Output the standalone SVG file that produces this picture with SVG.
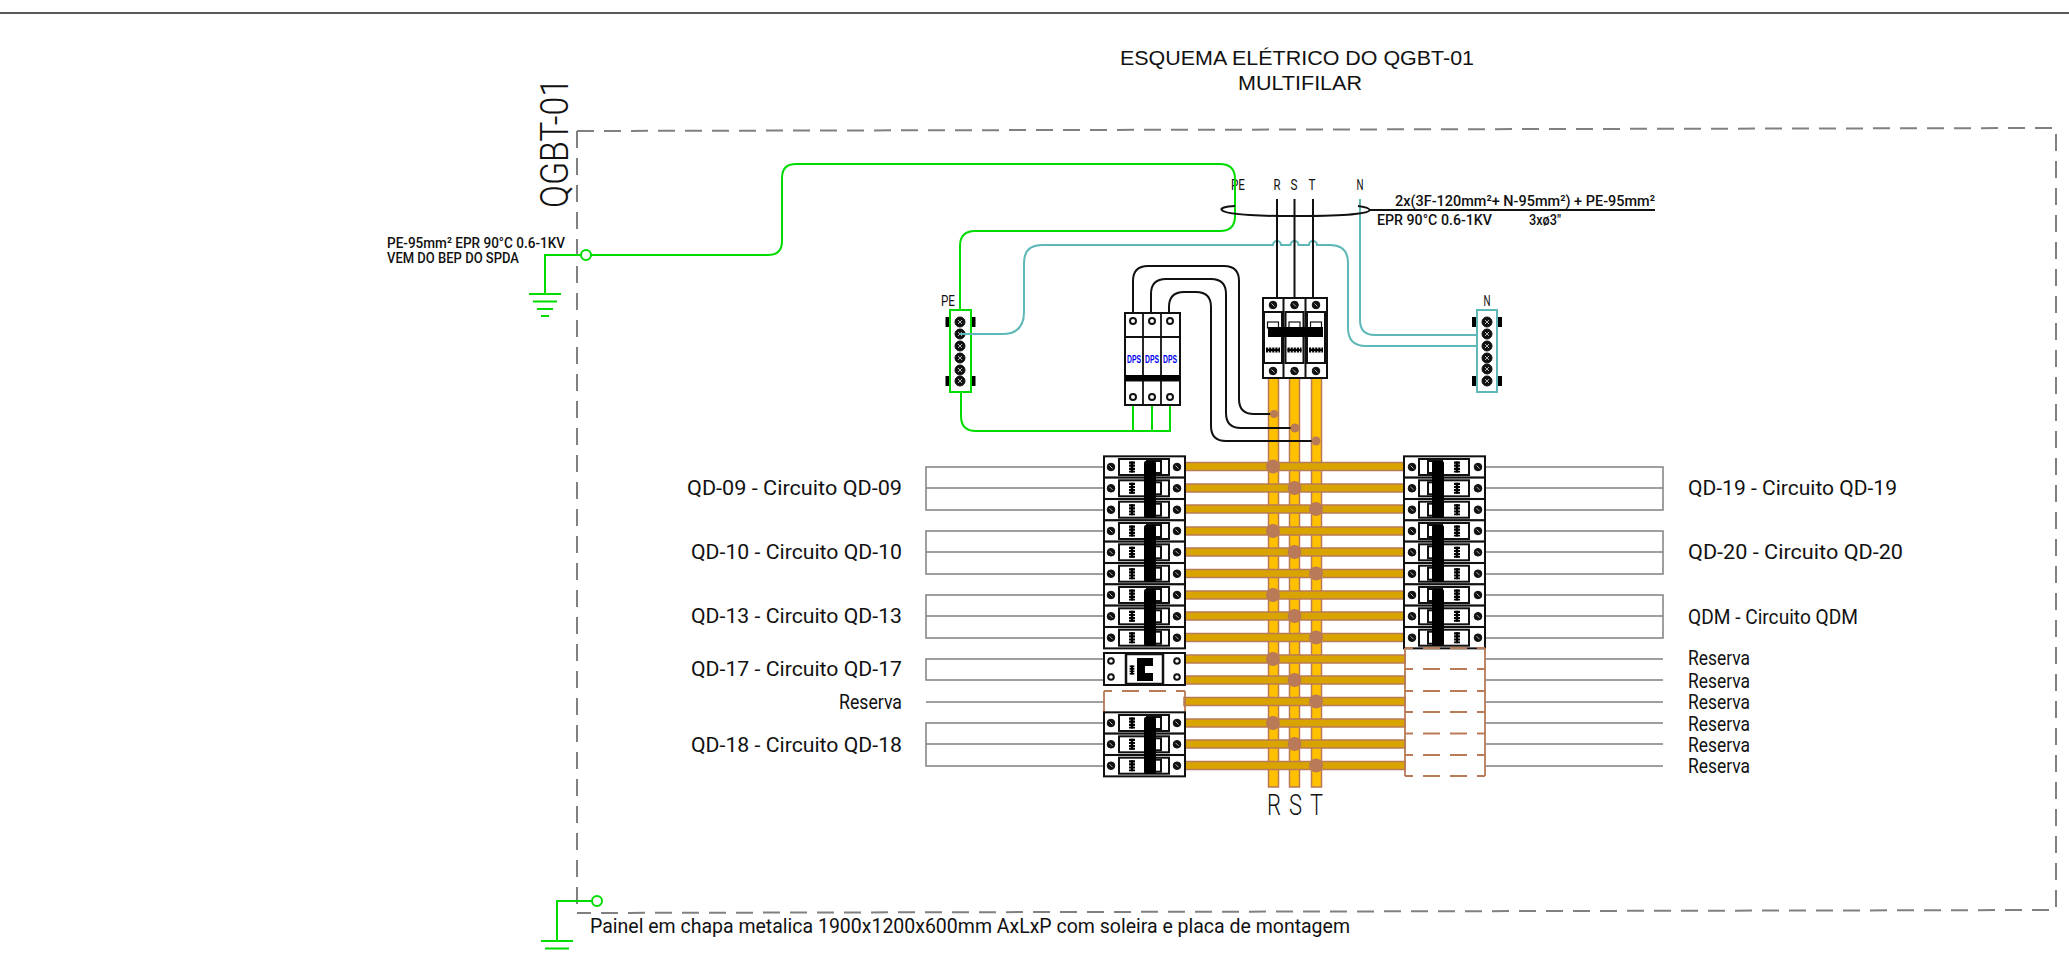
<svg xmlns="http://www.w3.org/2000/svg" width="2069" height="955" viewBox="0 0 2069 955">
<style>
text{font-family:Roboto,"Liberation Sans",Arial,sans-serif;font-weight:300;fill:#111}
.title{font-family:"Liberation Sans",Arial,sans-serif;font-weight:400;font-size:20px;text-anchor:middle}
.lab{font-size:21px;font-weight:400}
.small{font-size:15px;font-weight:500}
.ph{font-size:14px;font-weight:400;text-anchor:middle}
.rst{font-size:30px}
.dps{font-family:"Liberation Sans",Arial,sans-serif;font-size:10px;font-weight:700;fill:#0000f0}
.g{fill:none;stroke:#00dc00;stroke-width:2}
.t{fill:none;stroke:#5fb8b8;stroke-width:2}
.k{fill:none;stroke:#111;stroke-width:2}
.gr{fill:none;stroke:#808080;stroke-width:1.5}
.fr{fill:none;stroke:#808080;stroke-width:2;stroke-dasharray:17 10}
.res{fill:none;stroke:#b97a57;stroke-width:1.800;stroke-dasharray:17 10;stroke-dashoffset:9}
.box{fill:#fff;stroke:#111;stroke-width:2}
.thin{fill:#fff;stroke:#111;stroke-width:2}
.v{fill:#ffc000;stroke:#b97a57;stroke-width:1.5}
.h{fill:#d9a400;stroke:#b97a57;stroke-width:1.5}
.dot{fill:#b97a57}
.bar{fill:#000}
.term{fill:#111;stroke:#111}
.open{fill:#fff;stroke:#111;stroke-width:2}
</style>
<defs>
<g id="coil"><path d="M0 -5.500V5.500" stroke="#000" stroke-width="6" stroke-dasharray="2.200 .9" fill="none"/><path d="M0 -5.500V5.500" stroke="#000" stroke-width="2.500"/></g>
<g id="coilh"><path d="M-7 0H7" stroke="#000" stroke-width="5" stroke-dasharray="2.200 .9" fill="none"/><path d="M-7 0H7" stroke="#000" stroke-width="2"/></g>
<g id="screw"><circle r="3.800" class="term"/><path d="M-1.500 -1.500L1.500 1.500" stroke="#fff" stroke-width=".7"/></g>
<g id="lug"><circle r="5" class="term"/><path d="M-2 -2L2 2M-2 2L2 -2" stroke="#fff" stroke-width=".7"/></g>
<g id="bl"><rect y="-10.670" width="81" height="21.330" class="box"/><use href="#screw" x="7"/><use href="#screw" x="73"/><rect x="15" y="-8" width="50" height="16" class="thin"/><use href="#coil" x="28"/><rect x="43" y="-6" width="14" height="12" class="thin"/></g>
<g id="br"><rect y="-10.670" width="81" height="21.330" class="box"/><use href="#screw" x="8"/><use href="#screw" x="74"/><rect x="15" y="-8" width="50" height="16" class="thin"/><rect x="24" y="-6" width="14" height="12" class="thin"/><use href="#coil" x="53"/></g>
<g id="pole"><rect x="-9" y="-26" width="18" height="51" class="thin"/><rect x="-5.500" y="-16" width="11" height="6" class="thin" style="stroke-width:1.2"/><use href="#coilh" y="12"/></g>
<g id="clips"><rect x="-15" y="-5" width="5" height="10" class="bar"/><rect x="10" y="-5" width="5" height="10" class="bar"/></g>
<g id="ground"><path d="M-16 0H16M-12 7.500H12M-8 15H8M-4 22H4" class="g"/></g>
</defs>

<path d="M0 13H2069" stroke="#222" stroke-width="1.500" fill="none"/>
<path id="frame" d="M577 131L2056 128V910L577 913M577 131V913" class="fr"/>

<g id="titles">
<text class="title" x="1297" y="65" textLength="354" lengthAdjust="spacingAndGlyphs">ESQUEMA ELÉTRICO DO QGBT-01</text>
<text class="title" x="1300" y="90" textLength="124" lengthAdjust="spacingAndGlyphs">MULTIFILAR</text>
<text transform="translate(568 208) rotate(-90)" font-size="38" textLength="130" lengthAdjust="spacingAndGlyphs">QGBT-01</text>
<text class="lab" x="590" y="933" textLength="760" lengthAdjust="spacingAndGlyphs">Painel em chapa metalica 1900x1200x600mm AxLxP com soleira e placa de montagem</text>
<text class="small" x="387" y="248" textLength="178" lengthAdjust="spacingAndGlyphs">PE-95mm² EPR 90°C 0.6-1KV</text>
<text class="small" x="387" y="263" textLength="132" lengthAdjust="spacingAndGlyphs">VEM DO BEP DO SPDA</text>
<text class="small" x="1395" y="206" textLength="260" lengthAdjust="spacingAndGlyphs">2x(3F-120mm²+ N-95mm²) + PE-95mm²</text>
<text class="small" x="1377" y="225" textLength="115" lengthAdjust="spacingAndGlyphs">EPR 90°C 0.6-1KV</text>
<text class="small" x="1529" y="225" textLength="32" lengthAdjust="spacingAndGlyphs">3xø3"</text>
<text class="ph" x="1238" y="190" textLength="14" lengthAdjust="spacingAndGlyphs">PE</text>
<text class="ph" x="1277" y="190" textLength="7" lengthAdjust="spacingAndGlyphs">R</text>
<text class="ph" x="1294" y="190" textLength="7" lengthAdjust="spacingAndGlyphs">S</text>
<text class="ph" x="1312" y="190" textLength="7" lengthAdjust="spacingAndGlyphs">T</text>
<text class="ph" x="1360" y="190" textLength="7" lengthAdjust="spacingAndGlyphs">N</text>
<text class="ph" x="948" y="306" textLength="14" lengthAdjust="spacingAndGlyphs">PE</text>
<text class="ph" x="1487" y="306" textLength="7" lengthAdjust="spacingAndGlyphs">N</text>
<text class="rst" x="1267" y="815" textLength="14" lengthAdjust="spacingAndGlyphs">R</text>
<text class="rst" x="1289" y="815" textLength="13" lengthAdjust="spacingAndGlyphs">S</text>
<text class="rst" x="1310" y="815" textLength="13" lengthAdjust="spacingAndGlyphs">T</text>
<text class="lab" x="687" y="495" textLength="215" lengthAdjust="spacingAndGlyphs">QD-09 - Circuito QD-09</text>
<text class="lab" x="691" y="559" textLength="211" lengthAdjust="spacingAndGlyphs">QD-10 - Circuito QD-10</text>
<text class="lab" x="691" y="623" textLength="211" lengthAdjust="spacingAndGlyphs">QD-13 - Circuito QD-13</text>
<text class="lab" x="691" y="676" textLength="211" lengthAdjust="spacingAndGlyphs">QD-17 - Circuito QD-17</text>
<text class="lab" x="839" y="709" textLength="63" lengthAdjust="spacingAndGlyphs">Reserva</text>
<text class="lab" x="691" y="752" textLength="211" lengthAdjust="spacingAndGlyphs">QD-18 - Circuito QD-18</text>
<text class="lab" x="1688" y="495" textLength="209" lengthAdjust="spacingAndGlyphs">QD-19 - Circuito QD-19</text>
<text class="lab" x="1688" y="559" textLength="215" lengthAdjust="spacingAndGlyphs">QD-20 - Circuito QD-20</text>
<text class="lab" x="1688" y="624" textLength="170" lengthAdjust="spacingAndGlyphs">QDM - Circuito QDM</text>
<text class="lab" x="1688" y="665" textLength="62" lengthAdjust="spacingAndGlyphs">Reserva</text>
<text class="lab" x="1688" y="688" textLength="62" lengthAdjust="spacingAndGlyphs">Reserva</text>
<text class="lab" x="1688" y="709" textLength="62" lengthAdjust="spacingAndGlyphs">Reserva</text>
<text class="lab" x="1688" y="731" textLength="62" lengthAdjust="spacingAndGlyphs">Reserva</text>
<text class="lab" x="1688" y="752" textLength="62" lengthAdjust="spacingAndGlyphs">Reserva</text>
<text class="lab" x="1688" y="773" textLength="62" lengthAdjust="spacingAndGlyphs">Reserva</text>
</g>

<g id="connectors">
<g id="gray-feeders">
<path class="gr" d="M1104 467H926V510H1104M926 488H1104"/>
<path class="gr" d="M1104 531H926V574H1104M926 552H1104"/>
<path class="gr" d="M1104 595H926V638H1104M926 616H1104"/>
<path class="gr" d="M1104 659H926V680H1104"/>
<path class="gr" d="M926 702H1104"/>
<path class="gr" d="M1104 723H926V766H1104M926 744H1104"/>
<path class="gr" d="M1485 467H1663V510H1485M1485 488H1663"/>
<path class="gr" d="M1485 531H1663V574H1485M1485 552H1663"/>
<path class="gr" d="M1485 595H1663V638H1485M1485 616H1663"/>
<path class="gr" d="M1485 659H1663M1485 680H1663M1485 702H1663M1485 723H1663M1485 744H1663M1485 766H1663"/>
</g>
<path class="g" d="M545 294V255H581M591 255H768Q782 255 782 241V178Q782 164 796 164H1220Q1235 164 1235 179V216Q1235 231 1220 231H975Q960 231 960 246V310"/>
<path class="g" d="M961 392V416Q961 431 976 431H1170V405M1133 405V431M1152 405V431"/>
<path class="g" d="M592 901H557V941"/>
<path class="t" d="M960 334H1002Q1024 334 1024 312V263Q1024 245 1042 245H1273a4 4 0 0 1 8 0H1290.500a4 4 0 0 1 8 0H1309a4 4 0 0 1 8 0H1330Q1348 245 1348 263V328Q1348 346 1366 346H1477"/>
<path class="t" d="M1360 199V320Q1360 335 1375 335H1477"/>
<path class="k" d="M1277 199V298M1294.500 199V298M1313 199V298"/>
<path class="k" d="M1235 206C1215 207 1215 213 1250 215C1280 217 1340 216 1355 214C1376 212 1372 208 1358 206M1370 210H1655"/>
</g>

<g id="bus">
<rect class="v" x="1268.500" y="378" width="10" height="409"/>
<rect class="v" x="1289.500" y="378" width="10" height="409"/>
<rect class="v" x="1311.500" y="378" width="10" height="409"/>
<path class="k" d="M1133 313V281Q1133 266 1148 266H1224Q1239 266 1239 281V399Q1239 414 1254 414H1274"/>
<path class="k" d="M1151 313V294Q1151 279 1166 279H1211Q1226 279 1226 294V413Q1226 428 1241 428H1295"/>
<path class="k" d="M1169 313V307Q1169 292 1184 292H1196Q1211 292 1211 307V426Q1211 441 1226 441H1316"/>
<circle class="dot" cx="1274" cy="414" r="4"/><circle class="dot" cx="1295" cy="428" r="4.500"/><circle class="dot" cx="1316" cy="441" r="4.500"/>
<rect class="h" x="1184" y="462.500" width="221" height="8"/><rect class="h" x="1184" y="484" width="221" height="8"/><rect class="h" x="1184" y="505" width="221" height="8"/>
<rect class="h" x="1184" y="527" width="221" height="8"/><rect class="h" x="1184" y="548" width="221" height="8"/><rect class="h" x="1184" y="569.500" width="221" height="8"/>
<rect class="h" x="1184" y="591" width="221" height="8"/><rect class="h" x="1184" y="612" width="221" height="8"/><rect class="h" x="1184" y="633.500" width="221" height="8"/>
<rect class="h" x="1184" y="655" width="221" height="8"/><rect class="h" x="1184" y="676" width="221" height="8"/><rect class="h" x="1184" y="697.500" width="221" height="8"/>
<rect class="h" x="1184" y="719" width="221" height="8"/><rect class="h" x="1184" y="740" width="221" height="8"/><rect class="h" x="1184" y="761.500" width="221" height="8"/>
<circle class="dot" cx="1273" cy="466.500" r="7"/><circle class="dot" cx="1294.500" cy="488" r="7"/><circle class="dot" cx="1316" cy="509" r="7"/>
<circle class="dot" cx="1273" cy="531" r="7"/><circle class="dot" cx="1294.500" cy="552" r="7"/><circle class="dot" cx="1316" cy="573.500" r="7"/>
<circle class="dot" cx="1273" cy="595" r="7"/><circle class="dot" cx="1294.500" cy="616" r="7"/><circle class="dot" cx="1316" cy="637.500" r="7"/>
<circle class="dot" cx="1273" cy="659" r="7"/><circle class="dot" cx="1294.500" cy="680" r="7"/><circle class="dot" cx="1316" cy="701.500" r="7"/>
<circle class="dot" cx="1273" cy="723" r="7"/><circle class="dot" cx="1294.500" cy="744" r="7"/><circle class="dot" cx="1316" cy="765.500" r="7"/>
</g>

<g id="ground-top"><use href="#ground" x="545" y="294"/><circle cx="586" cy="255" r="5" class="g"/></g>
<g id="ground-bottom"><use href="#ground" x="557" y="941"/><circle cx="597" cy="901" r="5" class="g"/></g>

<g id="pe-bar">
<use href="#clips" x="960.500" y="322"/><use href="#clips" x="960.500" y="381"/>
<rect x="950" y="310" width="21" height="82" fill="#fff" stroke="#00dc00" stroke-width="2"/>
<use href="#lug" x="960" y="322"/><use href="#lug" x="960" y="334"/><use href="#lug" x="960" y="346"/><use href="#lug" x="960" y="358"/><use href="#lug" x="960" y="370"/><use href="#lug" x="960" y="381"/>
<path d="M960 334H972" stroke="#5fb8b8" stroke-width="2"/>
</g>

<g id="n-bar">
<use href="#clips" x="1487" y="322"/><use href="#clips" x="1487" y="381"/>
<rect x="1477" y="310" width="20" height="82" fill="#fff" stroke="#5fb8b8" stroke-width="2"/>
<use href="#lug" x="1487" y="322"/><use href="#lug" x="1487" y="334"/><use href="#lug" x="1487" y="346"/><use href="#lug" x="1487" y="358"/><use href="#lug" x="1487" y="369"/><use href="#lug" x="1487" y="381"/>
</g>

<g id="dps">
<rect x="1125" y="313" width="55" height="92" class="box"/>
<path d="M1143 313V405M1161 313V405M1125 337H1180M1125 380.500H1180" stroke="#111" stroke-width="1.800" fill="none"/>
<rect x="1125" y="375" width="55" height="5.500" class="bar"/>
<circle cx="1133" cy="321" r="3" class="open"/><circle cx="1152" cy="321" r="3" class="open"/><circle cx="1170" cy="321" r="3" class="open"/>
<circle cx="1133" cy="397" r="3" class="open"/><circle cx="1152" cy="397" r="3" class="open"/><circle cx="1170" cy="397" r="3" class="open"/>
<text class="dps" x="1127" y="363" textLength="14" lengthAdjust="spacingAndGlyphs">DPS</text><text class="dps" x="1145" y="363" textLength="14" lengthAdjust="spacingAndGlyphs">DPS</text><text class="dps" x="1163" y="363" textLength="14" lengthAdjust="spacingAndGlyphs">DPS</text>
</g>

<g id="main-breaker">
<rect x="1263" y="298" width="64" height="80" class="box"/>
<path d="M1283.500 298V378M1305.500 298V378" stroke="#111" stroke-width="2"/>
<use href="#pole" x="1273" y="338"/><use href="#pole" x="1294.500" y="338"/><use href="#pole" x="1316" y="338"/>
<rect x="1268" y="327" width="55" height="10" class="bar"/>
<use href="#screw" x="1273" y="305"/><use href="#screw" x="1294.500" y="305"/><use href="#screw" x="1316" y="305"/>
<use href="#screw" x="1273" y="371"/><use href="#screw" x="1294.500" y="371"/><use href="#screw" x="1316" y="371"/>
</g>

<g id="qd-09"><use href="#bl" x="1104" y="467"/><use href="#bl" x="1104" y="488.300"/><use href="#bl" x="1104" y="509.700"/><rect x="1144" y="461" width="12" height="57" class="bar" rx="2"/></g>
<g id="qd-10"><use href="#bl" x="1104" y="531"/><use href="#bl" x="1104" y="552.300"/><use href="#bl" x="1104" y="573.700"/><rect x="1144" y="525" width="12" height="57" class="bar" rx="2"/></g>
<g id="qd-13"><use href="#bl" x="1104" y="595"/><use href="#bl" x="1104" y="616.300"/><use href="#bl" x="1104" y="637.700"/><rect x="1144" y="589" width="12" height="57" class="bar" rx="2"/></g>
<g id="qd-17">
<rect x="1104" y="653" width="81" height="32" class="box"/>
<rect x="1126" y="654" width="37" height="30" class="box" style="stroke-width:2.500"/>
<circle cx="1111" cy="661" r="2.800" class="open"/><circle cx="1111" cy="677" r="2.800" class="open"/><circle cx="1177" cy="661" r="2.800" class="open"/><circle cx="1177" cy="677" r="2.800" class="open"/>
<use href="#coil" transform="translate(1132 670) scale(.8)"/>
<path d="M1137 658H1153V666H1145V673H1153V681H1137Z" class="bar"/>
</g>
<path id="reserva-left" class="res" d="M1104 691H1185"/>
<path id="reserva-left-sides" d="M1104 691V712M1185 691V712" fill="none" stroke="#b97a57" stroke-width="1.800"/>
<g id="qd-18"><use href="#bl" x="1104" y="723"/><use href="#bl" x="1104" y="744.300"/><use href="#bl" x="1104" y="765.700"/><rect x="1144" y="717" width="12" height="57" class="bar" rx="2"/></g>

<g id="qd-19"><use href="#br" x="1404" y="467"/><use href="#br" x="1404" y="488.300"/><use href="#br" x="1404" y="509.700"/><rect x="1432" y="461" width="12" height="57" class="bar" rx="2"/></g>
<g id="qd-20"><use href="#br" x="1404" y="531"/><use href="#br" x="1404" y="552.300"/><use href="#br" x="1404" y="573.700"/><rect x="1432" y="525" width="12" height="57" class="bar" rx="2"/></g>
<g id="qdm"><use href="#br" x="1404" y="595"/><use href="#br" x="1404" y="616.300"/><use href="#br" x="1404" y="637.700"/><rect x="1432" y="589" width="12" height="57" class="bar" rx="2"/></g>
<path id="reserva-right" class="res" d="M1405 648H1485M1405 669H1485M1405 691H1485M1405 712H1485M1405 733.500H1485M1405 755H1485M1405 776H1485"/>
<path id="reserva-right-sides" d="M1405 648V776M1485 648V776" fill="none" stroke="#b97a57" stroke-width="1.800"/>
</svg>
